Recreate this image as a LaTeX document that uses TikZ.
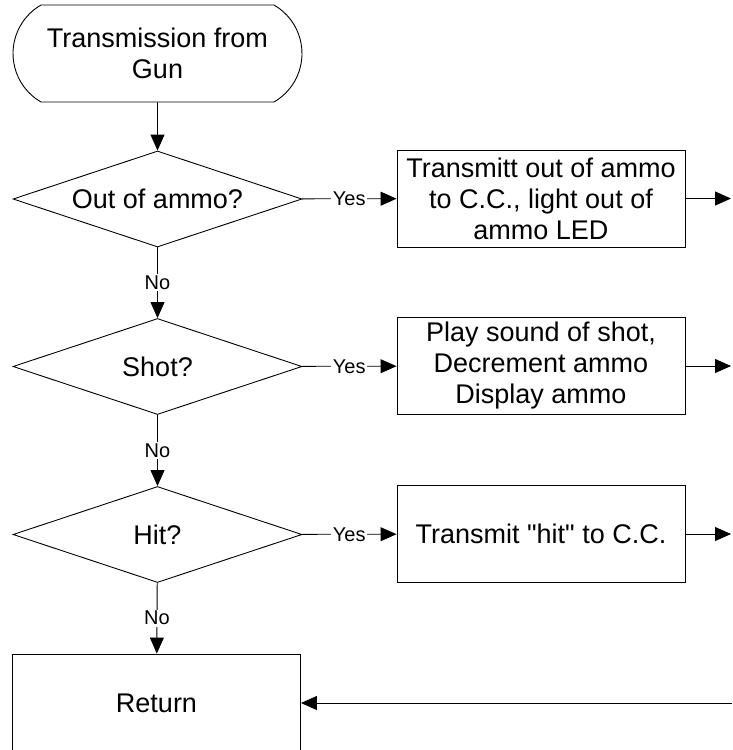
\documentclass[tikz,border=0pt]{standalone}
\usepackage{fontspec}
\setmainfont{Liberation Sans}
\usetikzlibrary{positioning}
\usetikzlibrary{arrows.meta}
\usetikzlibrary{shapes.geometric}
\usetikzlibrary{shapes.misc}

\begin{document}
\begin{tikzpicture}[x=1pt,y=-1pt,line width=0.9pt,
	every node/.style={font=\fontsize{27}{31}\selectfont, align=center},
	terminal/.style={draw, rounded rectangle, rounded rectangle arc length=120, minimum width=289pt, minimum height=97pt, inner sep=0pt},
	decision/.style={draw, diamond, aspect=3, minimum width=289pt, minimum height=96pt, inner sep=0pt},
	process/.style={draw, rectangle, minimum width=288pt, minimum height=97pt, inner sep=0pt},
	answer/.style={font=\fontsize{20}{22}\selectfont, fill=white, inner sep=1.5pt},
	flow/.style={draw, -{Triangle[length=16pt,width=14pt]}}]
			\useasboundingbox (0,0) rectangle (732,750);

			% Start
			\node[terminal] (start) at (157.5,53.5) {Transmission from\\Gun};

			% Decisions
			\node[decision] (ammo) at (157.5,199) {Out of ammo?};
			\node[decision] (shot) at (157.5,366.5) {Shot?};
			\node[decision] (hit) at (157.5,534.5) {Hit?};

			% Actions
			\node[process] (ammotx) at (541,198.5) {Transmitt out of ammo\\to C.C., light out of\\ammo LED};
			\node[process] (shottx) at (541,366) {Play sound of shot,\\Decrement ammo\\Display ammo};
			\node[process] (hittx) at (541,534) {Transmit \textquotedbl hit\textquotedbl{} to C.C.};

			% Return
			\node[process, minimum width=288pt, minimum height=98pt] (ret) at (156.5,703) {Return};

			% Loose ends at the right edge
			\coordinate (out1) at (731,198.5);
			\coordinate (out2) at (731,366);
			\coordinate (out3) at (731,534);
			\coordinate (back) at (732,703);

			% Main flow
			\draw[flow] (start) -- (ammo);
			\draw[flow] (ammo) -- node[answer] {No} (shot);
			\draw[flow] (shot) -- node[answer] {No} (hit);
			\draw[flow] (hit) -- node[answer] {No} (ret);

			% Yes branches
			\draw[flow] (ammo) -- node[answer] {Yes} (ammotx);
			\draw[flow] (shot) -- node[answer] {Yes} (shottx);
			\draw[flow] (hit) -- node[answer] {Yes} (hittx);
			\draw[flow] (ammotx) -- (out1);
			\draw[flow] (shottx) -- (out2);
			\draw[flow] (hittx) -- (out3);
			\draw[flow] (back) -- (ret);
		\end{tikzpicture}
\end{document}
